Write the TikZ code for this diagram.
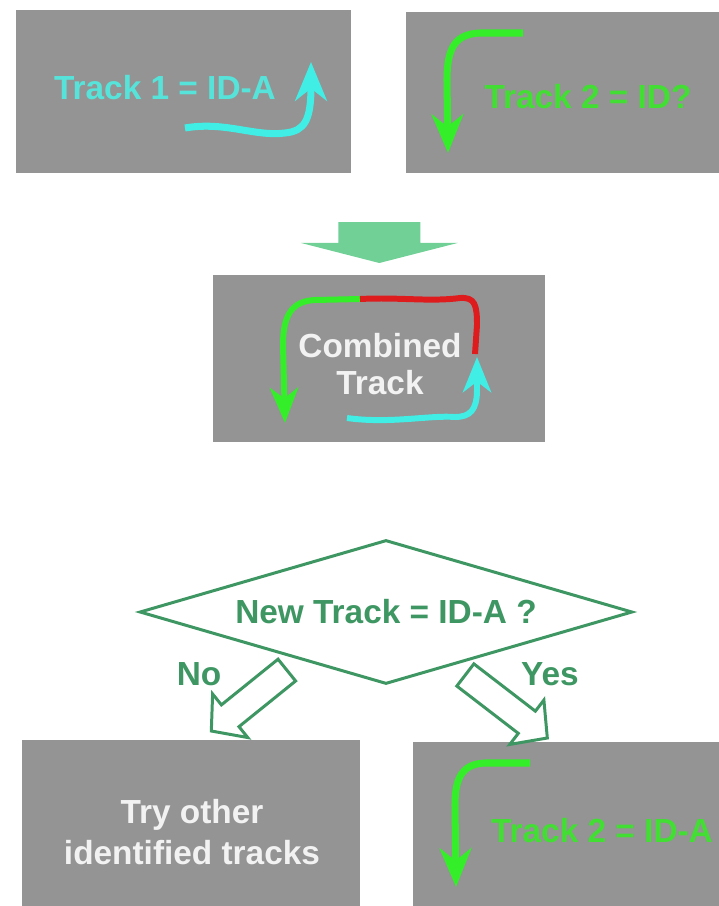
\documentclass[tikz,border=0pt]{standalone}
\usepackage{fontspec}
\setmainfont{Liberation Sans}
\usetikzlibrary{arrows.meta,shapes.geometric,calc}

\definecolor{boxgray}{RGB}{148,148,148}
\definecolor{trackcyan}{RGB}{64,238,230}
\definecolor{textcyan}{RGB}{86,228,218}
\definecolor{trackgreen}{RGB}{52,238,42}
\definecolor{textgreen}{RGB}{66,222,52}
\definecolor{trackred}{RGB}{222,28,30}
\definecolor{textwhite}{RGB}{242,242,242}
\definecolor{diagreen}{RGB}{62,150,98}
\definecolor{arrowgreen}{RGB}{112,208,150}

\tikzset{
  box/.style={fill=boxgray,inner sep=0pt,anchor=north west},
  lbl/.style={font=\bfseries\fontsize{19}{23}\selectfont,inner sep=0pt},
  track/.style={line width=4pt,-{Stealth[length=22pt,width=18pt,inset=7pt]}},
  smalltrack/.style={line width=3.4pt,-{Stealth[length=20pt,width=16pt,inset=6pt]}},
  openarrow/.style={draw=diagreen,fill=white,line width=1.7pt},
}

% block arrow from #2 to #3: head starts at #4, shaft half width #5, head half width #6
\newcommand{\blockarrow}[6][]{%
  \coordinate (ba-h) at ($(#2)!#4!(#3)$);
  \draw[#1] ($(#2)!#5!90:(#3)$) -- ($(ba-h)!#5!90:(#3)$) -- ($(ba-h)!#6!90:(#3)$) -- (#3)
    -- ($(ba-h)!#6!-90:(#3)$) -- ($(ba-h)!#5!-90:(#3)$) -- ($(#2)!#5!-90:(#3)$) -- cycle;}

\begin{document}
\begin{tikzpicture}[x=0.02cm,y=-0.02cm]
    \useasboundingbox (0,0) rectangle (719,906);
    %% Blocks
    \node[box,minimum width=6.7cm,minimum height=3.26cm] (one) at (16,10) {};
    \node[box,minimum width=6.26cm,minimum height=3.22cm] (two) at (406,12) {};
    \node[box,minimum width=6.64cm,minimum height=3.34cm] (comb) at (213,275) {};
    \node[box,minimum width=6.76cm,minimum height=3.32cm] (try) at (22,740) {};
    \node[box,minimum width=6.12cm,minimum height=3.28cm] (five) at (413,742) {};
    \node[draw=diagreen,line width=1.7pt,fill=white,diamond,aspect=3.4,inner sep=0pt,
          minimum width=9.86cm,minimum height=2.88cm] (q) at (386,612) {};
    %% tracks
    \draw[track,trackcyan] (185,128) .. controls (225,121) and (255,137) .. (285,133)
        .. controls (305,131) and (311,120) .. (311,62);
    \draw[track,trackgreen] (523,33) -- (480,33) .. controls (455,34) and (447,48) .. (447,80) -- (448,153);
    \draw[smalltrack,trackgreen] (360,299) -- (315,300) .. controls (292,301) and (283,315) .. (283,345) -- (285,423);
    \draw[line width=3.4pt,trackred] (360,299) .. controls (400,297) and (430,302) .. (460,298)
        .. controls (475,297) and (477,305) .. (477,325) -- (475,354);
    \draw[smalltrack,trackcyan] (347,418) .. controls (390,424) and (430,415) .. (455,417)
        .. controls (470,417) and (477,410) .. (477,390) -- (477,357);
    \draw[track,trackgreen] (530,763) -- (485,763) .. controls (462,764) and (455,778) .. (455,805) -- (456,887);
    %% labels
    \node[lbl,textcyan] (onetxt) at (165,88) {Track 1 = ID-A};
    \node[lbl,textgreen] (twotxt) at (588,97) {Track 2 = ID?};
    \node[lbl,textwhite,align=center,font=\bfseries\fontsize{19}{21.5}\selectfont] (combtxt) at (380,364) {Combined\\Track};
    \node[lbl,diagreen] (qtxt) at (q.center) {New Track = ID-A ?};
    \node[lbl,textwhite,align=center,font=\bfseries\fontsize{19}{23.2}\selectfont] (trytxt) at (192,832) {Try other\\identified tracks};
    \node[lbl,textgreen] (fivetxt) at (602,831) {Track 2 = ID-A};
    \node[lbl,diagreen] (no) at (199,674) {No};
    \node[lbl,diagreen] (yes) at (550,674) {Yes};
    %% arrows
    \coordinate (topEnd) at ($(comb.north)+(0,-12)$);
    \coordinate (topStart) at ($(topEnd)+(0,-41)$);
    \blockarrow[fill=arrowgreen,draw=none]{topStart}{topEnd}{0.51}{0.82cm}{1.57cm}
    \coordinate (noStart) at ($(q.south)!0.4!(q.west)+(0,14)$);
    \coordinate (noEnd) at ($(try.north)+(20,-9)$);
    \blockarrow[openarrow]{noStart}{noEnd}{0.75}{0.28cm}{0.56cm}
    \coordinate (yesStart) at ($(q.south)!0.32!(q.east)+(0,13)$);
    \coordinate (yesEnd) at ($(five.north)+(-19,-4)$);
    \blockarrow[openarrow]{yesStart}{yesEnd}{0.75}{0.28cm}{0.56cm}
\end{tikzpicture}
\end{document}
